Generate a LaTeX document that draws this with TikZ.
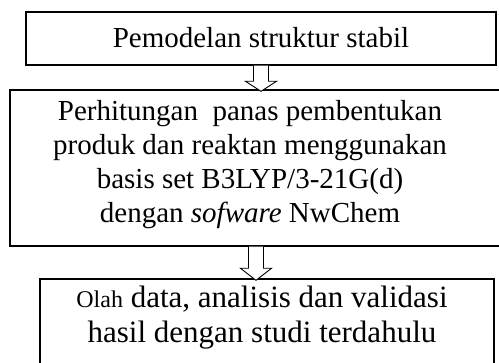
\documentclass[tikz,border=0pt]{standalone}
\usepackage{fontspec}
\setmainfont{Liberation Serif}
\usetikzlibrary{calc}
\begin{document}
\begin{tikzpicture}[x=1pt,y=-1pt,
  box/.style={draw, line width=1.4pt, inner sep=0pt},
  boxtext/.style={inner sep=0pt, align=center, font=\fontsize{29}{34}\selectfont},
  arrowline/.style={draw, line width=0.9pt, fill=white, line join=miter}]
\useasboundingbox (0,0) rectangle (499,363);

% process boxes
\node[box, minimum width=470pt, minimum height=53pt] (model) at (261,38.5) {};
\node[boxtext, anchor=base] (modeltext) at (261,48) {Pemodelan struktur stabil};

\node[box, minimum width=492pt, minimum height=156pt] (calc) at (256,168) {};
\node[boxtext, anchor=north] (calctext) at (250,100.5)
  {Perhitungan\ \ panas pembentukan\\
   produk dan reaktan menggunakan\\
   basis set B3LYP/3-21G(d)\\
   dengan \textit{sofware} NwChem};

\node[box, minimum width=454pt, minimum height=87pt] (result) at (267,322.5) {};
\node[boxtext, anchor=north, font=\fontsize{31}{35}\selectfont] (resulttext) at (262,286)
  {{\fontsize{24}{35}\selectfont Olah} data, analisis dan validasi\\
   hasil dengan studi terdahulu};

% hollow block arrows between the boxes
\newcommand\blockarrow[3]{%
  \path[arrowline] let \p1=(#1.south), \p2=(#2.north) in
    (\x1-7.5pt,\y1) -- (\x1-7.5pt,\y2+#3) -- (\x1-15.5pt,\y2+#3)
    -- (\x1,\y2-2pt) -- (\x1+15.5pt,\y2+#3) -- (\x1+7.5pt,\y2+#3)
    -- (\x1+7.5pt,\y1);}
\blockarrow{model}{calc}{8pt}
\blockarrow{calc}{result}{10pt}
\end{tikzpicture}
\end{document}
